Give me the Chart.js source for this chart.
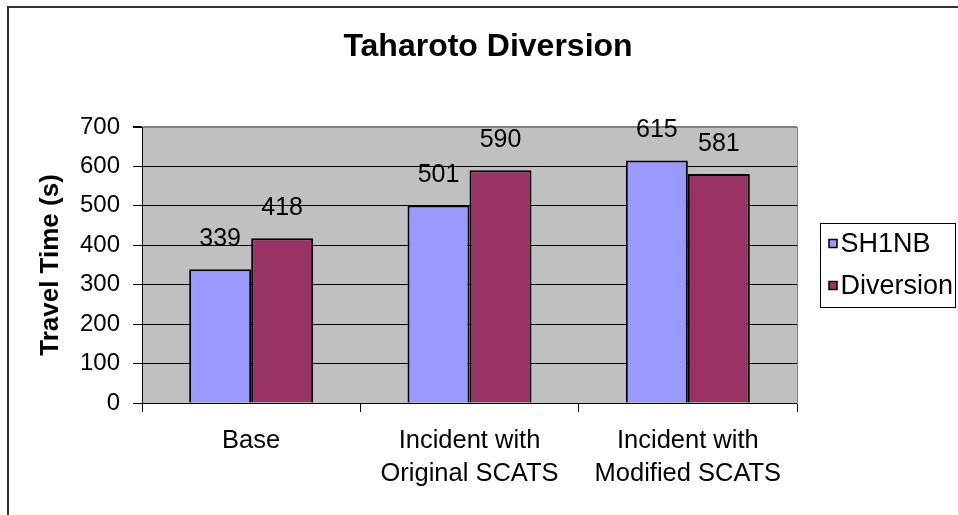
<!DOCTYPE html>
<html>
<head>
<meta charset="utf-8">
<script src="https://cdn.jsdelivr.net/npm/chart.js@4.4.1/dist/chart.umd.min.js"></script>
<style>
  html, body { margin: 0; padding: 0; background: #ffffff; overflow: hidden; }
  #wrap { width: 958px; height: 515px; position: relative; }
</style>
</head>
<body>
<div id="wrap"><canvas id="chart" width="958" height="515"></canvas></div>
<script>
// ---- data ----
const chartTitle = 'Taharoto Diversion';
const yAxisTitle = 'Travel Time (s)';
const categories = [['Base'], ['Incident with', 'Original SCATS'], ['Incident with', 'Modified SCATS']];
const seriesNames = ['SH1NB', 'Diversion'];
const sh1nbValues = [339, 501, 615];
const diversionValues = [418, 590, 581];
const yMin = 0;
const yMax = 700;
const yStep = 100;

// ---- styles ----
const FONT = "'Liberation Sans', Arial, sans-serif";
const seriesColors = ['#9999FF', '#993366'];

const frameAndBackground = {
  id: 'frameAndBackground',
  beforeDraw(chart) {
    const ctx = chart.ctx;
    const a = chart.chartArea;
    ctx.save();
    ctx.fillStyle = '#C0C0C0';
    ctx.fillRect(a.left, a.top, a.right - a.left, a.bottom - a.top);
    // outer chart frame
    ctx.strokeStyle = '#333333';
    ctx.lineWidth = 2;
    ctx.beginPath();
    ctx.moveTo(8, 515);
    ctx.lineTo(8, 7);
    ctx.lineTo(958, 7);
    ctx.stroke();
    ctx.restore();
  }
};

const valueLabels = {
  id: 'valueLabels',
  afterDatasetsDraw(chart) {
    const ctx = chart.ctx;
    ctx.save();
    ctx.font = '25px ' + FONT;
    ctx.fillStyle = '#000000';
    ctx.textAlign = 'center';
    ctx.textBaseline = 'middle';
    chart.data.datasets.forEach((ds, di) => {
      const meta = chart.getDatasetMeta(di);
      meta.data.forEach((el, i) => {
        ctx.fillText(String(ds.data[i]), el.x, el.y - 30);
      });
    });
    ctx.restore();
  }
};

const boxedLegend = {
  id: 'boxedLegend',
  afterDraw(chart) {
    const ctx = chart.ctx;
    const a = chart.chartArea;
    const left = a.right + 23.5;
    const top = 223.5;
    const itemGap = 42;
    const n = chart.data.datasets.length;
    ctx.save();
    ctx.strokeStyle = '#000000';
    ctx.lineWidth = 1;
    ctx.strokeRect(left, top, 135, itemGap * n);
    ctx.font = '27px ' + FONT;
    ctx.textAlign = 'left';
    ctx.textBaseline = 'middle';
    chart.data.datasets.forEach((ds, i) => {
      const cy = top + 20 + itemGap * i;
      ctx.fillStyle = ds.backgroundColor;
      ctx.fillRect(left + 8.5, cy - 4, 8, 8);
      ctx.lineWidth = 1.5;
      ctx.strokeStyle = '#000000';
      ctx.strokeRect(left + 8.5, cy - 4, 8, 8);
      ctx.fillStyle = '#000000';
      ctx.fillText(ds.label, left + 20, cy + 1);
    });
    ctx.restore();
  }
};

new Chart(document.getElementById('chart'), {
  type: 'bar',
  data: {
    labels: categories,
    datasets: [
      { label: seriesNames[0], data: sh1nbValues, backgroundColor: seriesColors[0], borderColor: '#000000', borderWidth: 2, borderSkipped: 'start' },
      { label: seriesNames[1], data: diversionValues, backgroundColor: seriesColors[1], borderColor: '#000000', borderWidth: 2, borderSkipped: 'start' }
    ]
  },
  options: {
    responsive: false,
    animation: false,
    devicePixelRatio: 1,
    categoryPercentage: 0.568,
    barPercentage: 1.0,
    layout: { padding: { left: 18, right: 0, top: 0, bottom: 0 } },
    plugins: {
      legend: { display: false },
      tooltip: { enabled: false },
      title: {
        display: true,
        text: chartTitle,
        color: '#000000',
        font: { family: FONT, size: 32, weight: 'bold', lineHeight: 1.2 },
        padding: { top: 27.5, bottom: 61.1 }
      }
    },
    scales: {
      x: {
        grid: {
          display: true,
          drawOnChartArea: false,
          drawTicks: true,
          tickLength: 9,
          offset: true,
          color: (c) => (c.index === categories.length ? '#808080' : '#000000'),
          lineWidth: 1
        },
        border: { display: true, color: '#000000', width: 1 },
        ticks: {
          color: '#000000',
          font: { family: FONT, size: 25.5, lineHeight: 1.3 },
          padding: 12,
          maxRotation: 0,
          autoSkip: false
        },
        afterFit(scale) { scale.height = 112; }
      },
      y: {
        min: yMin,
        max: yMax,
        grid: {
          color: (c) => (c.tick && c.tick.value === yMax ? '#808080' : '#000000'),
          lineWidth: (c) => (c.tick && c.tick.value === yMax ? 2 : 1),
          tickColor: '#000000',
          tickLength: 9,
          drawTicks: true
        },
        border: { display: true, color: '#000000', width: 1 },
        ticks: {
          stepSize: yStep,
          color: '#000000',
          font: { family: FONT, size: 24 },
          padding: 13
        },
        title: {
          display: true,
          text: yAxisTitle,
          color: '#000000',
          font: { family: FONT, size: 26, weight: 'bold', lineHeight: 1.2 },
          padding: { top: 17.4, bottom: 0 }
        },
        afterFit(scale) { scale.width = 124; }
      },
      yLegendSpace: {
        type: 'linear',
        position: 'right',
        display: true,
        grid: { display: false, drawTicks: false },
        ticks: { display: false },
        border: { display: true, color: '#808080', width: 1 },
        afterFit(scale) { scale.width = 161; }
      }
    }
  },
  plugins: [frameAndBackground, valueLabels, boxedLegend]
});
</script>
</body>
</html>
